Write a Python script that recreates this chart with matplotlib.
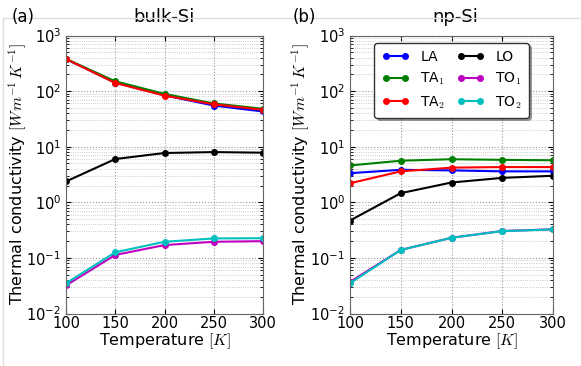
import matplotlib
matplotlib.use('Agg')
import matplotlib.pyplot as plt
from matplotlib.lines import Line2D

plt.rcParams['mathtext.fontset'] = 'cm'
plt.rcParams['font.family'] = 'DejaVu Sans'

T = [100, 150, 200, 250, 300]

# bulk-Si
bulk_LA = [375, 142, 84, 55, 43]
bulk_TA1 = [380, 150, 89, 60, 48]
bulk_TA2 = [378, 140, 83, 58, 46]
bulk_LO = [2.37, 6.0, 7.7, 8.0, 7.8]
bulk_TO1 = [0.032, 0.113, 0.17, 0.195, 0.20]
bulk_TO2 = [0.035, 0.126, 0.195, 0.224, 0.226]

# np-Si
np_LA = [3.34, 3.84, 3.75, 3.6, 3.6]
np_TA1 = [4.6, 5.6, 5.95, 5.8, 5.7]
np_TA2 = [2.2, 3.6, 4.2, 4.3, 4.3]
np_LO = [0.47, 1.46, 2.27, 2.75, 3.0]
np_TO1 = [0.037, 0.139, 0.23, 0.305, 0.327]
np_TO2 = [0.035, 0.139, 0.23, 0.303, 0.325]

labels = ['LA', 'TA$_1$', 'TA$_2$', 'LO', 'TO$_1$', 'TO$_2$']
colors = ['#0000ff', '#008000', '#ff0000', '#000000', '#bf00bf', '#00bfbf']

fig = plt.figure(figsize=(5.81, 3.66), dpi=100)

# graue rahmenlinien vom dokument
fig.add_artist(Line2D([3/581, 1], [1-17.5/366, 1-17.5/366], color='#dddddd', lw=1))
fig.add_artist(Line2D([3/581, 3/581], [0, 1-17.5/366], color='#dddddd', lw=1))

ax1 = fig.add_axes([66/581, 1-313.5/366, 197/581, 278/366])
ax2 = fig.add_axes([350/581, 1-313.5/366, 203/581, 278/366])

def panel(ax, series, title, ylab_x):
    for y, lab, c in zip(series, labels, colors):
        ax.plot(T, y, '-o', color=c, label=lab, lw=1.5, ms=4, mec=c)
    ax.set_yscale('log')
    ax.set_xlim(100, 300)
    ax.set_ylim(1e-2, 1e3)
    ax.set_xticks(T)
    ax.grid(True, which='major', ls=':', color='#999999', lw=0.8)
    ax.grid(True, which='minor', axis='y', ls=':', color='#bbbbbb', lw=0.6)
    ax.tick_params(direction='in', labelsize=10.5, which='both', top=True, right=True)
    ax.tick_params(axis='x', pad=2)
    for s in ax.spines.values():
        s.set_color('#666666')
    ax.set_xlabel('Temperature $[K]$', fontsize=11.5, labelpad=0)
    ax.set_ylabel('Thermal conductivity $[Wm^{-1}\\,K^{-1}]$', fontsize=11.5)
    ax.yaxis.set_label_coords(ylab_x, 0.5)
    t = ax.set_title(title, fontsize=13, pad=10)
    return t

panel(ax1, [bulk_LA, bulk_TA1, bulk_TA2, bulk_LO, bulk_TO1, bulk_TO2], 'bulk-Si', -0.19)
t2 = panel(ax2, [np_LA, np_TA1, np_TA2, np_LO, np_TO1, np_TO2], 'np-Si', -0.185)
t2.set_x(0.52)

leg = ax2.legend(loc='upper center', ncol=2, fontsize=10, numpoints=2,
                 fancybox=True, shadow=True, framealpha=1,
                 handlelength=2.0, columnspacing=0.8, borderpad=0.5,
                 labelspacing=0.5, handletextpad=0.8, borderaxespad=0,
                 bbox_to_anchor=(0.5, 1 - 7.5/278))
leg.get_frame().set_edgecolor('#333333')

fig.text(12/581, 1-17.5/366, '(a)', fontsize=12, va='center')
fig.text(293/581, 1-17.5/366, '(b)', fontsize=12, va='center')

fig.savefig('out.png', dpi=100)
